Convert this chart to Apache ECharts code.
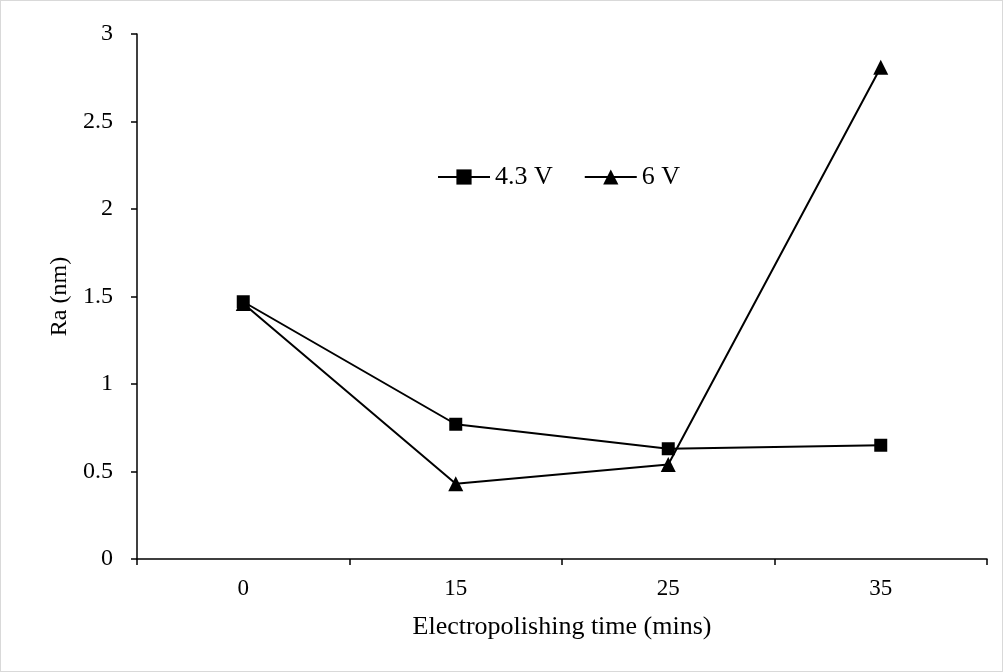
<!DOCTYPE html>
<html>
<head>
<meta charset="utf-8">
<script src="https://cdn.jsdelivr.net/npm/echarts@6/dist/echarts.min.js"></script>
<style>
  html, body { margin: 0; padding: 0; background: #fff; }
  #chart { width: 1003px; height: 672px; box-sizing: border-box; border: 1px solid #d9d9d9; }
</style>
</head>
<body>
<div id="chart"></div>
<script>
var times = ['0', '15', '25', '35'];
var ra43 = [1.47, 0.77, 0.63, 0.65];
var ra6 = [1.46, 0.43, 0.54, 2.81];
var yTicks = [0, 0.5, 1, 1.5, 2, 2.5, 3];

var font = 'Liberation Serif';
var myChart = echarts.init(document.getElementById('chart'));
myChart.setOption({
    animation: false,
    textStyle: { fontFamily: font, color: '#000' },
    grid: { left: 136, right: 15, top: 33, bottom: 112 },
    legend: {
        left: 431,
        top: 158,
        itemGap: 31,
        itemWidth: 52,
        itemHeight: 19,
        textStyle: { fontFamily: font, fontSize: 26, color: '#000' },
        data: ['4.3 V', '6 V']
    },
    xAxis: {
        type: 'category',
        data: times,
        boundaryGap: true,
        name: 'Electropolishing time (mins)',
        nameLocation: 'middle',
        nameGap: 55,
        nameTextStyle: { fontFamily: font, fontSize: 26, color: '#000' },
        axisLine: { lineStyle: { color: '#000', width: 1.5 } },
        axisTick: { show: true, interval: 0, length: 6, lineStyle: { color: '#000', width: 1.5 } },
        axisLabel: { fontFamily: font, fontSize: 23, color: '#000', margin: 18 },
        splitLine: { show: false }
    },
    yAxis: {
        type: 'value',
        min: yTicks[0],
        max: yTicks[yTicks.length - 1],
        interval: 0.5,
        name: 'Ra (nm)',
        nameLocation: 'middle',
        nameGap: 62,
        nameRotate: 90,
        nameTextStyle: { fontFamily: font, fontSize: 24, color: '#000' },
        axisLine: { show: true, lineStyle: { color: '#000', width: 1.5 } },
        axisTick: { show: true, length: 6, lineStyle: { color: '#000', width: 1.5 } },
        axisLabel: { fontFamily: font, fontSize: 24, color: '#000', margin: 24 },
        splitLine: { show: false }
    },
    series: [{
        name: '4.3 V',
        type: 'line',
        data: ra43,
        symbol: 'rect',
        symbolSize: 13,
        itemStyle: { color: '#000' },
        lineStyle: { color: '#000', width: 2 }
    }, {
        name: '6 V',
        type: 'line',
        data: ra6,
        symbol: 'triangle',
        symbolSize: 15,
        itemStyle: { color: '#000' },
        lineStyle: { color: '#000', width: 2 }
    }]
});
</script>
</body>
</html>
